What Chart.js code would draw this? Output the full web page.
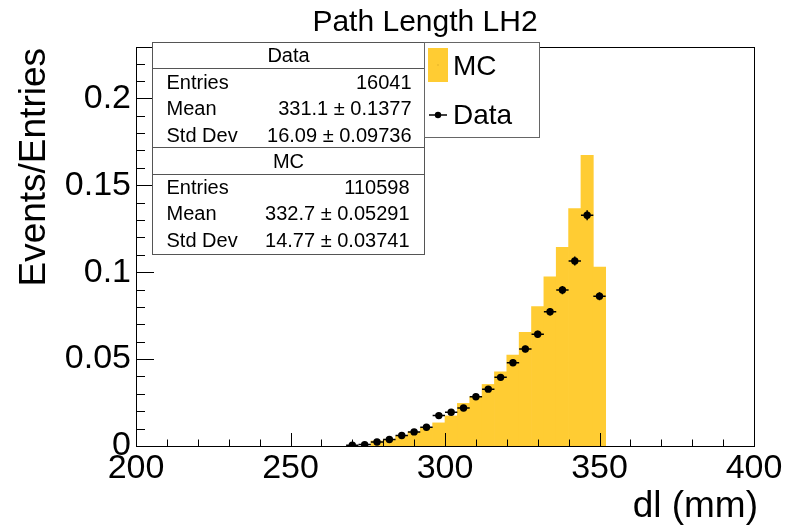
<!DOCTYPE html>
<html>
<head>
<meta charset="utf-8">
<title>Path Length LH2</title>
<script src="https://cdn.jsdelivr.net/npm/chart.js@4.4.1/dist/chart.umd.min.js"></script>
<style>
  html, body { margin: 0; padding: 0; background: #fff; }
  #plot { display: block; }
</style>
</head>
<body>
<canvas id="plot" width="787" height="528"></canvas>
<script>
// ── Histogram contents: dl (mm), 4 mm bins, normalised to entries ──
const BIN_WIDTH = 4;

const mcCenters = [278, 282, 286, 290, 294, 298, 302, 306, 310, 314, 318, 322, 326, 330, 334, 338, 342, 346, 350];
const mcValues  = [0.0029, 0.0039, 0.0058, 0.0081, 0.0106, 0.0133, 0.0173, 0.0245, 0.0283, 0.0354,
                   0.0427, 0.0523, 0.0654, 0.0802, 0.0973, 0.1143, 0.1366, 0.1672, 0.1029];

const dataCenters = [270, 274, 278, 282, 286, 290, 294, 298, 302, 306, 310, 314, 318, 322, 326, 330, 334, 338, 342, 346, 350];
const dataValues  = [0.0005, 0.0008, 0.0023, 0.0037, 0.0060, 0.0081, 0.0108, 0.0175, 0.0194, 0.0219, 0.0283,
                     0.0327, 0.0395, 0.0479, 0.0558, 0.0643, 0.0772, 0.0897, 0.1064, 0.1327, 0.0862];
const dataErrors  = [0.0002, 0.0002, 0.0004, 0.0005, 0.0006, 0.0007, 0.0008, 0.0010, 0.0011, 0.0012, 0.0013,
                     0.0014, 0.0016, 0.0017, 0.0019, 0.0020, 0.0022, 0.0024, 0.0026, 0.0029, 0.0023];

const xTicks = [200, 250, 300, 350, 400];
const yTicks = [0, 0.05, 0.1, 0.15, 0.2];

const statsData = [["Entries", "16041"], ["Mean", "331.1 ± 0.1377"], ["Std Dev", "16.09 ± 0.09736"]];
const statsMC   = [["Entries", "110598"], ["Mean", "332.7 ± 0.05291"], ["Std Dev", "14.77 ± 0.03741"]];

const FONT = '"Liberation Sans", Arial, Helvetica, sans-serif';
const MC_COLOR = "rgb(255, 204, 51)";

// ── ROOT-style frame, inward ticks, titles, stats box and legend ──
const rootStyle = {
  id: "rootStyle",
  afterDatasetsDraw(chart) {
    // error bars on the data points
    const { ctx, scales: { x, y } } = chart;
    ctx.save();
    ctx.strokeStyle = "#000";
    ctx.lineWidth = 1.5;
    dataCenters.forEach((c, i) => {
      const px = x.getPixelForValue(c);
      const py = y.getPixelForValue(dataValues[i]);
      ctx.beginPath();
      ctx.moveTo(x.getPixelForValue(c - BIN_WIDTH / 2), py);
      ctx.lineTo(x.getPixelForValue(c + BIN_WIDTH / 2), py);
      ctx.moveTo(px, y.getPixelForValue(dataValues[i] - dataErrors[i]));
      ctx.lineTo(px, y.getPixelForValue(dataValues[i] + dataErrors[i]));
      ctx.stroke();
    });
    ctx.restore();
  },
  afterDraw(chart) {
    const { ctx, chartArea: a, scales: { x, y } } = chart;
    ctx.save();

    // frame
    ctx.strokeStyle = "#000";
    ctx.lineWidth = 1;
    ctx.strokeRect(a.left + 0.5, a.top + 0.5, a.right - a.left, a.bottom - a.top);

    // x ticks: every 10, long at 50
    ctx.beginPath();
    for (let v = 200; v <= 400; v += 10) {
      const px = Math.round(x.getPixelForValue(v)) + 0.5;
      const len = v % 50 === 0 ? 13 : 6.5;
      ctx.moveTo(px, a.bottom);
      ctx.lineTo(px, a.bottom - len);
    }
    // y ticks: every 0.01, long at 0.05
    for (let k = 0; k <= 22; k++) {
      const py = Math.round(y.getPixelForValue(k * 0.01)) + 0.5;
      const len = k % 5 === 0 ? 18 : 9;
      ctx.moveTo(a.left, py);
      ctx.lineTo(a.left + len, py);
    }
    ctx.stroke();

    // titles
    ctx.fillStyle = "#000";
    ctx.font = `30px ${FONT}`;
    ctx.textAlign = "center";
    ctx.textBaseline = "alphabetic";
    ctx.fillText("Path Length LH2", 425, 31);

    ctx.font = `37px ${FONT}`;
    ctx.textAlign = "right";
    ctx.fillText("dl (mm)", 758, 517);

    ctx.save();
    ctx.translate(45, 48);
    ctx.rotate(-Math.PI / 2);
    ctx.fillText("Events/Entries", 0, 0);
    ctx.restore();

    // stats box
    const sb = { l: 152.5, t: 42.5, r: 424.5, b: 254.5 };
    ctx.fillStyle = "#fff";
    ctx.fillRect(sb.l, sb.t, sb.r - sb.l, sb.b - sb.t);
    ctx.strokeStyle = "#555";
    ctx.strokeRect(sb.l, sb.t, sb.r - sb.l, sb.b - sb.t);
    ctx.beginPath();
    [68.5, 147.5, 174.5].forEach((ly) => { ctx.moveTo(sb.l, ly); ctx.lineTo(sb.r, ly); });
    ctx.stroke();

    ctx.fillStyle = "#000";
    ctx.font = `20px ${FONT}`;
    ctx.textBaseline = "middle";
    ctx.textAlign = "center";
    ctx.fillText("Data", (sb.l + sb.r) / 2, 56);
    ctx.fillText("MC", (sb.l + sb.r) / 2, 162);
    const rowsY = [[statsData, [83, 109.5, 136], 411.5], [statsMC, [188, 214.5, 241], 409.5]];
    rowsY.forEach(([rows, ys, valueX]) => {
      rows.forEach(([label, value], i) => {
        ctx.textAlign = "left";
        ctx.fillText(label, 166.5, ys[i]);
        ctx.textAlign = "right";
        ctx.fillText(value, valueX, ys[i]);
      });
    });

    // legend
    const lg = { l: 424.5, t: 42.5, r: 539.5, b: 137.5 };
    ctx.fillStyle = "#fff";
    ctx.fillRect(lg.l, lg.t, lg.r - lg.l, lg.b - lg.t);
    ctx.strokeStyle = "#666";
    ctx.strokeRect(lg.l, lg.t, lg.r - lg.l, lg.b - lg.t);

    ctx.fillStyle = MC_COLOR;
    ctx.fillRect(428, 48, 20, 34);
    ctx.fillStyle = "#c8961e";
    ctx.fillRect(437.5, 64.5, 1, 1);

    ctx.strokeStyle = "#000";
    ctx.lineWidth = 1.5;
    ctx.beginPath();
    ctx.moveTo(429, 115);
    ctx.lineTo(447, 115);
    ctx.stroke();
    ctx.fillStyle = "#000";
    ctx.beginPath();
    ctx.arc(438, 115, 3.2, 0, Math.PI * 2);
    ctx.fill();

    ctx.font = `28px ${FONT}`;
    ctx.textAlign = "left";
    ctx.textBaseline = "middle";
    ctx.fillText("MC", 453, 67);
    ctx.fillText("Data", 453, 116);

    ctx.restore();
  }
};

new Chart(document.getElementById("plot"), {
  type: "bar",
  data: {
    datasets: [
      {
        type: "bar",
        label: "MC",
        data: mcCenters.map((c, i) => ({ x: c, y: mcValues[i] })),
        backgroundColor: MC_COLOR,
        borderWidth: 0,
        barPercentage: 1,
        categoryPercentage: 1,
        order: 2
      },
      {
        type: "scatter",
        label: "Data",
        data: dataCenters.map((c, i) => ({ x: c, y: dataValues[i] })),
        pointRadius: 3.7,
        pointBackgroundColor: "#000",
        pointBorderWidth: 0,
        showLine: false,
        order: 1
      }
    ]
  },
  options: {
    responsive: false,
    animation: false,
    layout: { padding: { top: 47, right: 33, left: 0, bottom: 0 } },
    plugins: {
      legend: { display: false },
      tooltip: { enabled: false },
      title: { display: false }
    },
    scales: {
      x: {
        type: "linear",
        min: 200,
        max: 400,
        offset: false,
        grid: { display: false, drawTicks: false },
        border: { display: false },
        afterFit: (s) => { s.height = 82; },
        afterBuildTicks: (s) => { s.ticks = xTicks.map((v) => ({ value: v })); },
        ticks: { font: { family: FONT, size: 34 }, color: "#000", padding: 2, maxRotation: 0, autoSkip: false }
      },
      y: {
        type: "linear",
        min: 0,
        max: 0.2295,
        grid: { display: false, drawTicks: false },
        border: { display: false },
        afterFit: (s) => { s.width = 136; },
        afterBuildTicks: (s) => { s.ticks = yTicks.map((v) => ({ value: v })); },
        ticks: {
          font: { family: FONT, size: 34 },
          color: "#000",
          padding: 5,
          autoSkip: false,
          callback: (v) => String(+v.toFixed(3))
        }
      }
    }
  },
  plugins: [rootStyle]
});
</script>
</body>
</html>
